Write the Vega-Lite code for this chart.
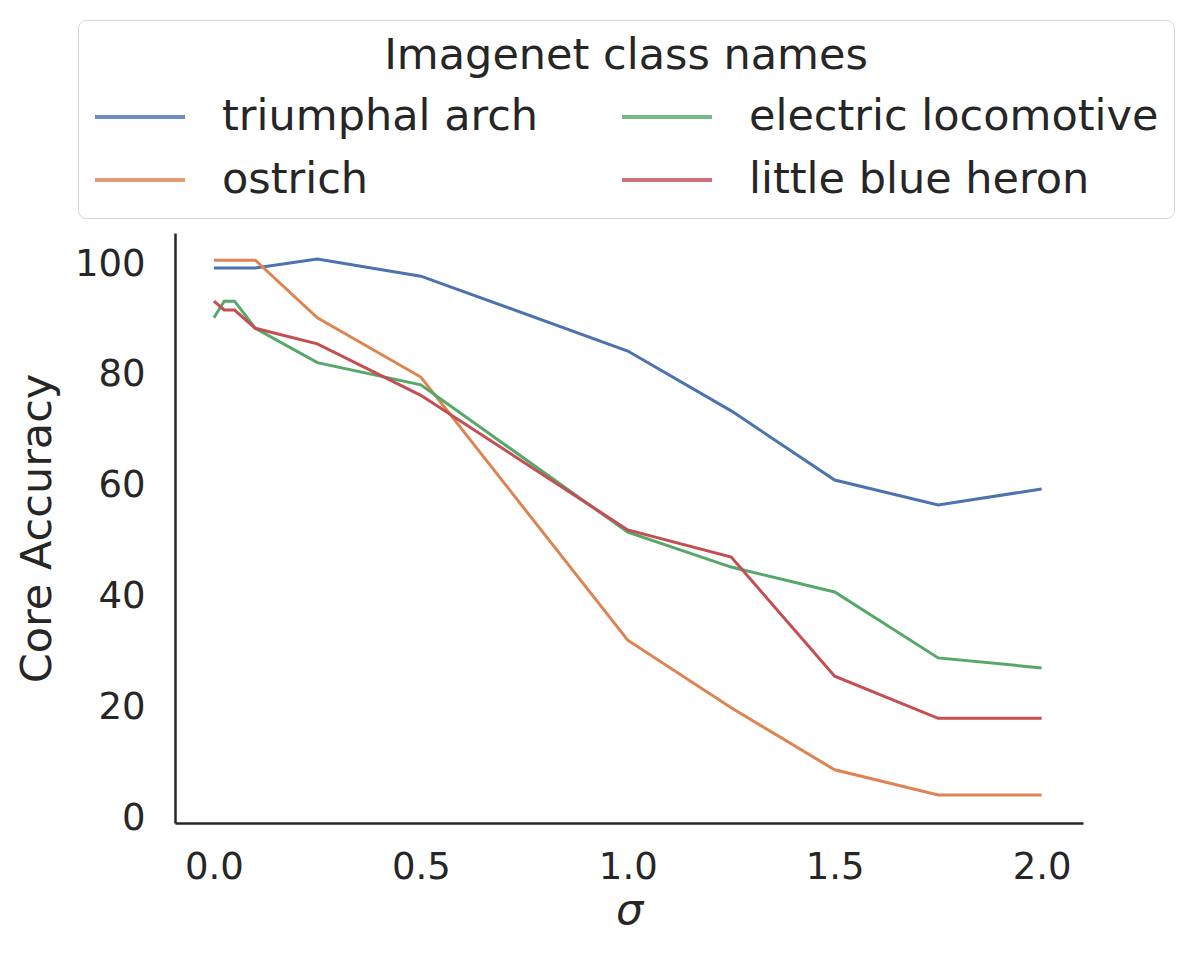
{
  "$schema": "https://vega.github.io/schema/vega-lite/v6.json",
  "width": 908,
  "height": 590,
  "autosize": {"type": "none"},
  "padding": {"left": 175, "top": 233, "right": 113, "bottom": 134},
  "background": "white",
  "config": {
    "view": {"stroke": null},
    "font": "DejaVu Sans",
    "axis": {
      "domainColor": "#262626",
      "domainWidth": 2.5,
      "ticks": false,
      "grid": false,
      "labelFont": "DejaVu Sans",
      "labelFontSize": 37,
      "labelColor": "#262626",
      "titleFont": "DejaVu Sans",
      "titleFontSize": 43,
      "titleFontWeight": "normal",
      "titleColor": "#262626"
    },
    "legend": {
      "labelFont": "DejaVu Sans",
      "titleFont": "DejaVu Sans"
    }
  },
  "data": {
    "values": [
      {"cls": "triumphal arch", "sigma": 0, "acc": 99.3},
      {"cls": "triumphal arch", "sigma": 0.025, "acc": 99.3},
      {"cls": "triumphal arch", "sigma": 0.05, "acc": 99.3},
      {"cls": "triumphal arch", "sigma": 0.1, "acc": 99.3},
      {"cls": "triumphal arch", "sigma": 0.25, "acc": 100.9},
      {"cls": "triumphal arch", "sigma": 0.5, "acc": 97.8},
      {"cls": "triumphal arch", "sigma": 1.0, "acc": 84.3},
      {"cls": "triumphal arch", "sigma": 1.25, "acc": 73.5},
      {"cls": "triumphal arch", "sigma": 1.5, "acc": 61.0},
      {"cls": "triumphal arch", "sigma": 1.75, "acc": 56.5},
      {"cls": "triumphal arch", "sigma": 2.0, "acc": 59.4},
      {"cls": "ostrich", "sigma": 0, "acc": 100.7},
      {"cls": "ostrich", "sigma": 0.025, "acc": 100.7},
      {"cls": "ostrich", "sigma": 0.05, "acc": 100.7},
      {"cls": "ostrich", "sigma": 0.1, "acc": 100.7},
      {"cls": "ostrich", "sigma": 0.25, "acc": 90.3},
      {"cls": "ostrich", "sigma": 0.5, "acc": 79.6},
      {"cls": "ostrich", "sigma": 1.0, "acc": 32.1},
      {"cls": "ostrich", "sigma": 1.25, "acc": 19.9},
      {"cls": "ostrich", "sigma": 1.5, "acc": 8.7},
      {"cls": "ostrich", "sigma": 1.75, "acc": 4.15},
      {"cls": "ostrich", "sigma": 2.0, "acc": 4.15},
      {"cls": "electric locomotive", "sigma": 0, "acc": 90.3},
      {"cls": "electric locomotive", "sigma": 0.025, "acc": 93.3},
      {"cls": "electric locomotive", "sigma": 0.05, "acc": 93.3},
      {"cls": "electric locomotive", "sigma": 0.1, "acc": 88.4},
      {"cls": "electric locomotive", "sigma": 0.25, "acc": 82.2},
      {"cls": "electric locomotive", "sigma": 0.5, "acc": 78.2},
      {"cls": "electric locomotive", "sigma": 1.0, "acc": 51.6},
      {"cls": "electric locomotive", "sigma": 1.25, "acc": 45.3},
      {"cls": "electric locomotive", "sigma": 1.5, "acc": 40.8},
      {"cls": "electric locomotive", "sigma": 1.75, "acc": 28.9},
      {"cls": "electric locomotive", "sigma": 2.0, "acc": 27.1},
      {"cls": "little blue heron", "sigma": 0, "acc": 93.3},
      {"cls": "little blue heron", "sigma": 0.025, "acc": 91.7},
      {"cls": "little blue heron", "sigma": 0.05, "acc": 91.7},
      {"cls": "little blue heron", "sigma": 0.1, "acc": 88.4},
      {"cls": "little blue heron", "sigma": 0.25, "acc": 85.6},
      {"cls": "little blue heron", "sigma": 0.5, "acc": 76.3},
      {"cls": "little blue heron", "sigma": 1.0, "acc": 52.0},
      {"cls": "little blue heron", "sigma": 1.25, "acc": 47.1},
      {"cls": "little blue heron", "sigma": 1.5, "acc": 25.6},
      {"cls": "little blue heron", "sigma": 1.75, "acc": 18.0},
      {"cls": "little blue heron", "sigma": 2.0, "acc": 18.0}
    ]
  },
  "mark": {"type": "line", "strokeWidth": 3},
  "encoding": {
    "x": {
      "field": "sigma",
      "type": "quantitative",
      "scale": {"domain": [-0.094, 2.1], "nice": false, "zero": false},
      "axis": {
        "title": "σ",
        "titleFontStyle": "italic",
        "values": [0, 0.5, 1, 1.5, 2],
        "format": ".1f",
        "labelPadding": 26,
        "titlePadding": 4
      }
    },
    "y": {
      "field": "acc",
      "type": "quantitative",
      "scale": {"domain": [-0.9, 105.6], "nice": false, "zero": false},
      "axis": {
        "title": "Core Accuracy",
        "values": [0, 20, 40, 60, 80, 100],
        "labelPadding": 30,
        "titlePadding": 15
      }
    },
    "color": {
      "field": "cls",
      "type": "nominal",
      "scale": {
        "domain": ["triumphal arch", "ostrich", "electric locomotive", "little blue heron"],
        "range": ["#4C72B0", "#DD8452", "#55A868", "#C44E52"]
      },
      "legend": {
        "title": "Imagenet class names",
        "orient": "none",
        "legendX": -97,
        "legendY": -213,
        "columns": 2,
        "columnPadding": 81,
        "rowPadding": 17,
        "padding": 15,
        "fillColor": "white",
        "strokeColor": "#d6d6d6",
        "cornerRadius": 8,
        "titleAnchor": "middle",
        "titleFontSize": 43,
        "titleFontWeight": "normal",
        "titleColor": "#262626",
        "titlePadding": 16,
        "titleLimit": 2000,
        "labelFontSize": 43,
        "labelColor": "#262626",
        "labelLimit": 2000,
        "labelOffset": 35,
        "symbolType": "stroke",
        "symbolSize": 8100,
        "symbolStrokeWidth": 4,
        "symbolOpacity": 0.8,
        "clipHeight": 46
      }
    }
  }
}
